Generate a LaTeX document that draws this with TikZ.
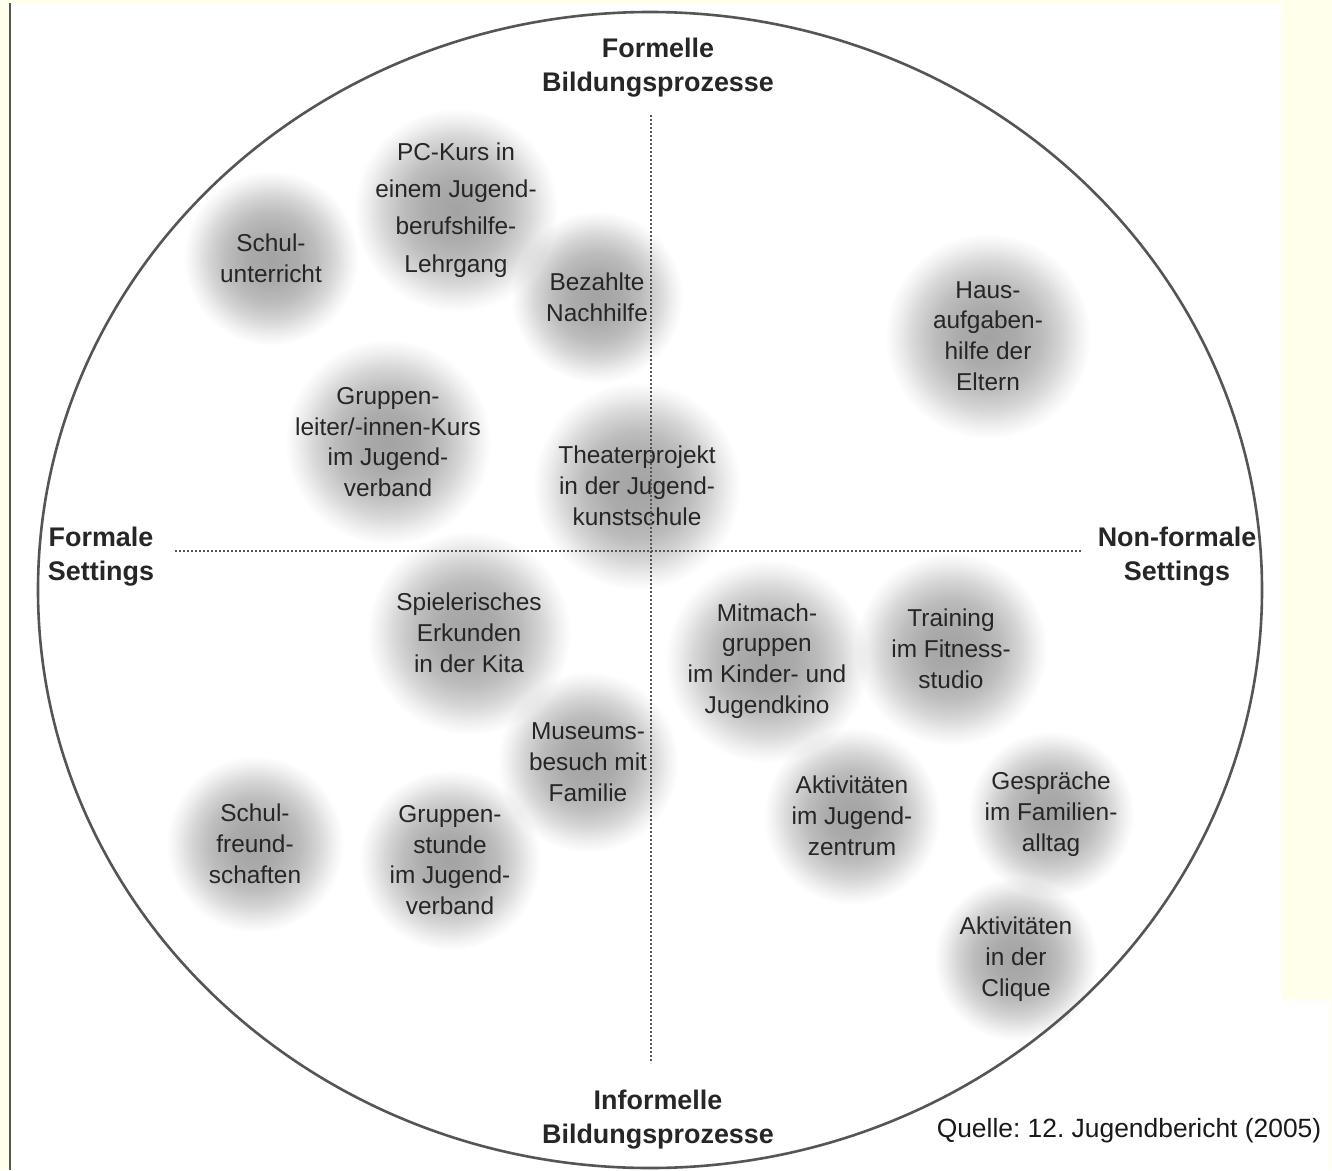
\documentclass[tikz,border=0pt]{standalone}
\usepackage{fontspec}
\setmainfont{Liberation Sans}

\definecolor{pagebg}{RGB}{255,255,236}
\definecolor{rimgray}{RGB}{85,85,85}
\definecolor{inkgray}{RGB}{38,38,38}

% soft grey spot behind each example (the circle's rim sits at about 25bp)
\pgfdeclareradialshading{blobshade}{\pgfpoint{0bp}{0bp}}{color(0bp)=(black!36); color(7bp)=(black!33); color(13bp)=(black!26); color(18bp)=(black!16); color(22bp)=(black!6); color(25bp)=(white); color(50bp)=(white)}

\begin{document}
\frenchspacing
\begin{tikzpicture}[
    x=1pt, y=-1pt,
    blob/.style={circle, shading=blobshade, blend mode=multiply, inner sep=0pt, minimum size=#1},
    blobtext/.style={align=center, text=inkgray, font=\fontsize{24.4}{30.8}\selectfont},
    widetext/.style={align=center, text=inkgray, font=\fontsize{24.4}{37.2}\selectfont},
    axislabel/.style={align=center, text=inkgray, font=\bfseries\fontsize{26.9}{34}\selectfont},
    rim/.style={draw=rimgray, line width=2.6pt},
    axisline/.style={draw=rimgray, line width=1.6pt, dash pattern=on 1.8pt off 2.2pt}
]
\useasboundingbox (0,0) rectangle (1332,1170);

% --- Paper ---
\fill[pagebg] (0,0) rectangle (1332,1170);
\fill[white] (10,3) rectangle (1282,1170);
\fill[white] (1282,1000) rectangle (1330,1170);
\draw[draw=rimgray, line width=1.4pt] (10,3) -- (10,1170);

% --- Examples, upper half ---
\node[blob=175pt, label={[blobtext]center:{Schul-\\unterricht}}] (schulunterricht) at (271,258) {};
\node[blob=204pt, label={[widetext]center:{PC-Kurs in\\einem Jugend-\\berufshilfe-\\Lehrgang}}] (pckurs) at (456,210) {};
\node[blob=172pt, label={[blobtext]center:{Bezahlte\\Nachhilfe}}] (nachhilfe) at (597,297) {};
\node[blob=206pt, label={[blobtext]center:{Haus-\\aufgaben-\\hilfe der\\Eltern}}] (hausaufgaben) at (988,336) {};
\node[blob=206pt, label={[blobtext]center:{Gruppen-\\leiter/-innen-Kurs\\im Jugend-\\verband}}] (gruppenleiter) at (388,442) {};
\node[blob=208pt, label={[blobtext]center:{Theaterprojekt\\in der Jugend-\\kunstschule}}] (theater) at (637,486) {};

% --- Examples, lower half ---
\node[blob=204pt, label={[blobtext]center:{Spielerisches\\Erkunden\\in der Kita}}] (kita) at (469,633) {};
\node[blob=181pt, label={[blobtext]center:{Museums-\\besuch mit\\Familie}}] (museum) at (588,762) {};
\node[blob=177pt, label={[blobtext]center:{Schul-\\freund-\\schaften}}] (freundschaften) at (255,844) {};
\node[blob=181pt, label={[blobtext]center:{Gruppen-\\stunde\\im Jugend-\\verband}}] (gruppenstunde) at (450,860) {};
\node[blob=204pt, label={[blobtext]center:{Mitmach-\\gruppen\\im Kinder- und\\Jugendkino}}] (mitmach) at (767,661) {};
\node[blob=193pt, label={[blobtext]center:{Training\\im Fitness-\\studio}}] (fitness) at (951,649) {};
\node[blob=177pt, label={[blobtext]center:{Aktivitäten\\im Jugend-\\zentrum}}] (jugendzentrum) at (852,816) {};
\node[blob=166pt, label={[blobtext]center:{Gespräche\\im Familien-\\alltag}}] (familienalltag) at (1051,814) {};
\node[blob=164pt, label={[blobtext]center:{Aktivitäten\\in der\\Clique}}] (clique) at (1016,959) {};

% --- Axes ---
\coordinate (vtop) at (651,115);
\coordinate (vbot) at (651,1063);
\coordinate (hleft) at (175,551);
\coordinate (hright) at (1082,551);
\draw[axisline] (vtop) -- (vbot);
\draw[axisline] (hleft) -- (hright);

% --- Outer ellipse ---
\draw[rim] (650,590) ellipse [x radius=612, y radius=578];

% --- Axis labels ---
\node[axislabel] (formell) at (658,68) {Formelle\\Bildungsprozesse};
\node[axislabel] (informell) at (658,1120) {Informelle\\Bildungsprozesse};
\node[axislabel] (formal) at (101,557) {Formale\\Settings};
\node[axislabel] (nonformal) at (1177,557) {Non-formale\\Settings};

\node[text=black!90, font=\fontsize{26.4}{30}\selectfont] (quelle) at (1129,1131) {Quelle: 12. Jugendbericht (2005)};

\end{tikzpicture}
\end{document}
